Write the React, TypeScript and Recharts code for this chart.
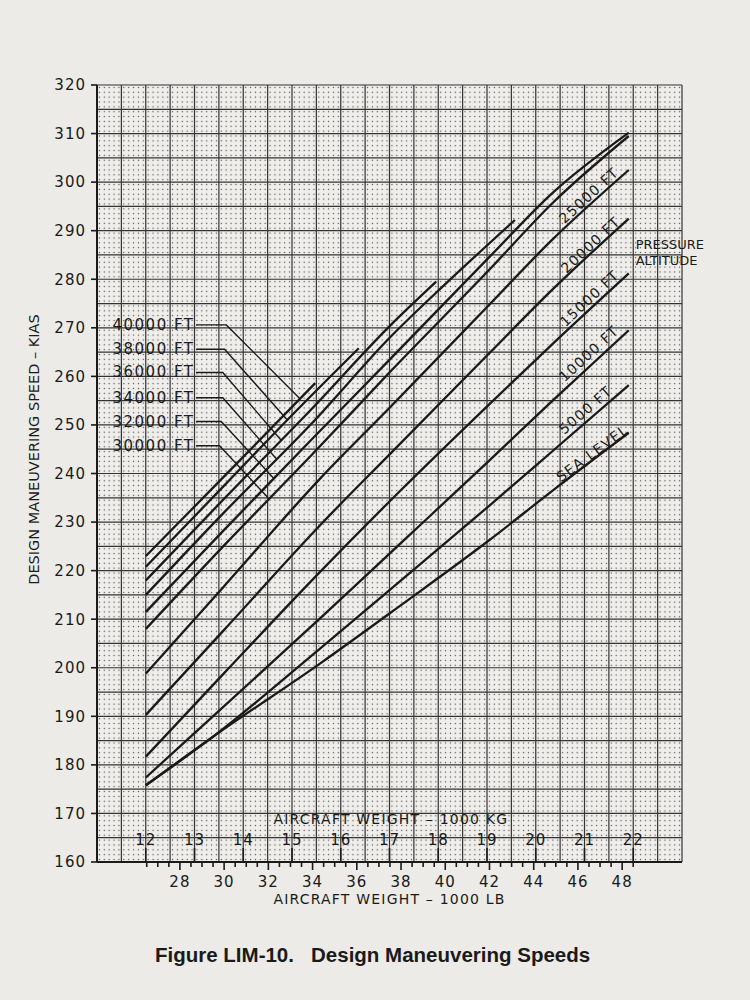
import React from 'react';
import { ComposedChart, Line, XAxis, YAxis, CartesianGrid, ReferenceDot } from 'recharts';

// weight in 1000 lb, speed in KIAS
const seaLevel = [[26.46, 175.8], [29.5, 185.8], [34.35, 200.9], [38, 212.9], [42, 226.3], [45, 237.0], [48.3, 248.4]];
const ft5000 = [[26.46, 175.8], [29.5, 185.8], [34.35, 204.0], [38, 218.0], [42, 233.4], [45, 245.2], [48.3, 258.2]];
const ft10000 = [[26.46, 177.4], [30, 192.1], [34.35, 210.2], [38, 225.7], [42, 242.7], [44.83, 254.9], [48.3, 269.5]];
const ft15000 = [[26.46, 181.7], [30, 198.9], [34.35, 219.8], [38, 236.6], [42, 254.3], [45, 267.3], [48.3, 281.2]];
const ft20000 = [[26.46, 190.3], [30, 207.8], [34.35, 229.4], [37.54, 244.2], [42, 264.8], [44.83, 277.8], [48.3, 292.5]];
const ft25000 = [[26.46, 198.8], [30, 216.8], [34.35, 239.0], [37.54, 253.8], [42, 274.8], [44.83, 288.1], [48.3, 302.5]];
const ft30000 = [[26.46, 208.0], [30, 225.2], [34, 244.0], [37.54, 261.1], [42, 282.0], [44.83, 295.6], [48.3, 309.5]];
const ft32000 = [[26.46, 211.5], [30, 228.4], [34, 247.2], [37.54, 263.7], [42, 284.6], [44.83, 297.7], [48.3, 310.2]];
const ft34000 = [[26.46, 215.0], [30, 232.0], [34, 250.5], [37.54, 268.2], [40, 279.0], [43.15, 292.2]];
const ft36000 = [[26.46, 218.0], [30, 234.8], [34, 253.5], [37.54, 270.6], [39.59, 279.5]];
const ft38000 = [[26.46, 220.8], [30, 237.5], [33, 251.7], [36.09, 265.8]];
const ft40000 = [[26.46, 223.0], [30, 239.4], [34.12, 258.6]];

// leader lines from the left-hand labels to their curves
const lead40000 = [[28.73, 270.6], [30.1, 270.6], [33.43, 255.4]];
const lead38000 = [[28.73, 265.6], [30.02, 265.6], [32.88, 250.9]];
const lead36000 = [[28.73, 260.8], [29.94, 260.8], [32.57, 246.9]];
const lead34000 = [[28.73, 255.6], [29.94, 255.6], [32.35, 243.1]];
const lead32000 = [[28.73, 250.7], [29.87, 250.7], [32.26, 238.9]];
const lead30000 = [[28.73, 245.7], [29.79, 245.7], [31.99, 235.0]];

const leftLabels = [
  { text: '40000 FT', v: 270.6 },
  { text: '38000 FT', v: 265.6 },
  { text: '36000 FT', v: 260.8 },
  { text: '34000 FT', v: 255.6 },
  { text: '32000 FT', v: 250.7 },
  { text: '30000 FT', v: 245.7 },
];

const curveLabels = [
  { text: '25000 FT', w: 46.49, v: 297.3, angle: -42.5 },
  { text: '20000 FT', w: 46.57, v: 287.1, angle: -43 },
  { text: '15000 FT', w: 46.52, v: 276.1, angle: -43 },
  { text: '10000 FT', w: 46.49, v: 264.7, angle: -42.5 },
  { text: '5000 FT', w: 46.34, v: 253.1, angle: -41 },
  { text: 'SEA LEVEL', w: 46.65, v: 244.2, angle: -36.5 },
];

const speedTicks = [160, 170, 180, 190, 200, 210, 220, 230, 240, 250, 260, 270, 280, 290, 300, 310, 320];
const kgTicks = [12, 13, 14, 15, 16, 17, 18, 19, 20, 21, 22];
const lbLabels = [28, 30, 32, 34, 36, 38, 40, 42, 44, 46, 48];
const lbMinor = Array.from({ length: 45 }, (_, i) => 26.5 + i * 0.5);
const kgGrid = Array.from({ length: 25 }, (_, i) => 11 + i * 0.5);
const ktGrid = Array.from({ length: 33 }, (_, i) => 160 + i * 5);

const LB_PER_T = 2.20462;
const LB_DOMAIN = [11 * LB_PER_T, 23 * LB_PER_T];
// kg ticks are drawn on the lb axis, converted to lb
const kgInLb = kgTicks.map((t) => t * LB_PER_T);
const bottomTicks = [...lbMinor, ...kgInLb].sort((a, b) => a - b);

const INK = '#1a1a1a';
const GRID = '#333333';
const PAPER = '#ecebe7';
const FONT = '"DejaVu Sans", Arial, sans-serif';

const pts = (a: number[][]) => a.map(([w, v]) => ({ w, v }));

const curves = [seaLevel, ft5000, ft10000, ft15000, ft20000, ft25000, ft30000, ft32000, ft34000, ft36000, ft38000, ft40000];
const leaders = [lead40000, lead38000, lead36000, lead34000, lead32000, lead30000];

function BottomTick(props: any) {
  const { x, y, payload } = props;
  const val = payload.value;
  const kg = kgTicks.find((t) => Math.abs(t * LB_PER_T - val) < 1e-6);
  if (kg !== undefined) {
    return (
      <g>
        <line x1={x} x2={x} y1={y} y2={y - 14} stroke={INK} strokeWidth={1.6} />
        <text x={x} y={y - 17} textAnchor="middle" fontFamily={FONT} fontSize={15} letterSpacing={1} fill={INK}>
          {kg}
        </text>
      </g>
    );
  }
  const major = lbLabels.some((l) => Math.abs(l - val) < 1e-6);
  return (
    <g>
      <line x1={x} x2={x} y1={y} y2={y + (major ? 8 : 5)} stroke={INK} strokeWidth={1.6} />
      {major && (
        <text x={x} y={y + 25} textAnchor="middle" fontFamily={FONT} fontSize={15} letterSpacing={1} fill={INK}>
          {val}
        </text>
      )}
    </g>
  );
}

const verticalGrid = ({ xAxis, offset }: any) =>
  kgGrid.map((t) =>
    xAxis && typeof xAxis.scale === 'function'
      ? xAxis.scale(t * LB_PER_T)
      : offset.left + ((t - 11) / 12) * offset.width
  );

const horizontalGrid = ({ yAxis, offset }: any) =>
  ktGrid.map((v) =>
    yAxis && typeof yAxis.scale === 'function'
      ? yAxis.scale(v)
      : offset.top + ((320 - v) / 160) * offset.height
  );

const centre = (p: any) => {
  const vb = p.viewBox || { x: 0, y: 0, width: 0, height: 0 };
  return [vb.x + (vb.width || 0) / 2, vb.y + (vb.height || 0) / 2];
};

const textLabel = (text: string, angle: number, size: number, anchor: string, spacing: number) => (p: any) => {
  const [cx, cy] = centre(p);
  return (
    <text
      x={cx}
      y={cy}
      transform={angle ? `rotate(${angle} ${cx} ${cy})` : undefined}
      textAnchor={anchor}
      dominantBaseline="central"
      fontFamily={FONT}
      fontSize={size}
      letterSpacing={spacing}
      fill={INK}
    >
      {text}
    </text>
  );
};

const pressureLabel = (p: any) => {
  const [cx, cy] = centre(p);
  return (
    <text x={cx} textAnchor="start" dominantBaseline="central" fontFamily={FONT} fontSize={13} fill={INK}>
      <tspan x={cx} y={cy - 7.6}>PRESSURE</tspan>
      <tspan x={cx} y={cy + 7.6}>ALTITUDE</tspan>
    </text>
  );
};

const yTitle = (p: any) => {
  const vb = p.viewBox || { x: 27, y: 85, width: 70, height: 777 };
  const cx = vb.x + 7;
  const cy = vb.y + vb.height / 2 - 24;
  return (
    <text
      x={cx}
      y={cy}
      transform={`rotate(-90 ${cx} ${cy})`}
      textAnchor="middle"
      dominantBaseline="central"
      fontFamily={FONT}
      fontSize={14.5}
      fill={INK}
    >
      DESIGN MANEUVERING SPEED – KIAS
    </text>
  );
};

const xTitle = (p: any) => {
  const vb = p.viewBox || { x: 97, y: 862, width: 585, height: 50 };
  const cx = vb.x + vb.width / 2;
  const cy = vb.y + 36.5;
  return (
    <text x={cx} y={cy} textAnchor="middle" dominantBaseline="central" fontFamily={FONT} fontSize={14} letterSpacing={1.2} fill={INK}>
      AIRCRAFT WEIGHT – 1000 LB
    </text>
  );
};

export default function App() {
  return (
    <div style={{ position: 'relative', width: 750, height: 1000, background: PAPER, overflow: 'hidden' }}>
      <style>{`body{margin:0;background:${PAPER}}`}</style>
      <ComposedChart width={750} height={930} margin={{ top: 85, right: 68, bottom: 18, left: 27 }}>
        <defs>
          <pattern id="dots" patternUnits="userSpaceOnUse" x={97} y={85} width={4.875} height={4.856}>
            <rect x={0} y={0} width={4.875} height={4.856} fill="#efeeea" />
            <circle cx={2.44} cy={2.43} r={0.7} fill="#555555" />
          </pattern>
        </defs>
        <XAxis
          xAxisId="lb"
          dataKey="w"
          type="number"
          domain={LB_DOMAIN}
          allowDataOverflow
          ticks={bottomTicks}
          interval={0}
          height={50}
          tickSize={0}
          tickMargin={0}
          tickLine={false}
          axisLine={{ stroke: INK, strokeWidth: 2 }}
          tick={<BottomTick />}
          label={xTitle}
        />
        <YAxis
          yAxisId="kts"
          type="number"
          domain={[160, 320]}
          allowDataOverflow
          ticks={speedTicks}
          interval={0}
          width={70}
          tickSize={6}
          tickMargin={5}
          axisLine={{ stroke: INK, strokeWidth: 2 }}
          tickLine={{ stroke: INK, strokeWidth: 1.6 }}
          tick={{ fontFamily: FONT, fontSize: 15, fill: INK, letterSpacing: 1 }}
          label={yTitle}
        />
        <CartesianGrid
          xAxisId="lb"
          yAxisId="kts"
          verticalCoordinatesGenerator={verticalGrid}
          horizontalCoordinatesGenerator={horizontalGrid}
          fill="url(#dots)"
          fillOpacity={1}
          stroke={GRID}
          strokeWidth={1.2}
        />

        {curves.map((c, i) => (
          <Line
            key={'c' + i}
            xAxisId="lb"
            yAxisId="kts"
            data={pts(c)}
            dataKey="v"
            type="monotone"
            stroke={INK}
            strokeWidth={2.3}
            dot={false}
            activeDot={false}
            isAnimationActive={false}
          />
        ))}
        {leaders.map((c, i) => (
          <Line
            key={'l' + i}
            xAxisId="lb"
            yAxisId="kts"
            data={pts(c)}
            dataKey="v"
            type="linear"
            stroke={INK}
            strokeWidth={1.4}
            dot={false}
            activeDot={false}
            isAnimationActive={false}
          />
        ))}

        {leftLabels.map((l) => (
          <ReferenceDot
            key={l.text}
            xAxisId="lb"
            yAxisId="kts"
            x={28.66}
            y={l.v}
            r={1}
            fill="none"
            stroke="none"
            ifOverflow="visible"
            label={textLabel(l.text, 0, 15, 'end', 1.5)}
          />
        ))}
        {curveLabels.map((l) => (
          <ReferenceDot
            key={l.text}
            xAxisId="lb"
            yAxisId="kts"
            x={l.w}
            y={l.v}
            r={1}
            fill="none"
            stroke="none"
            ifOverflow="visible"
            label={textLabel(l.text, l.angle, 14, 'middle', 1.2)}
          />
        ))}
        <ReferenceDot
          xAxisId="lb"
          yAxisId="kts"
          x={48.61}
          y={285.6}
          r={1}
          fill="none"
          stroke="none"
          ifOverflow="visible"
          label={pressureLabel}
        />
        <ReferenceDot
          xAxisId="lb"
          yAxisId="kts"
          x={37.54}
          y={168.85}
          r={1}
          fill="none"
          stroke="none"
          ifOverflow="visible"
          label={textLabel('AIRCRAFT WEIGHT – 1000 KG', 0, 14, 'middle', 1.2)}
        />
      </ComposedChart>
      <div
        style={{
          position: 'absolute',
          left: 155,
          top: 943,
          fontFamily: '"Liberation Sans", Arial, sans-serif',
          fontWeight: 700,
          fontSize: 20.5,
          color: '#1a1a1a',
          whiteSpace: 'pre',
        }}
      >
        {'Figure LIM-10.   Design Maneuvering Speeds'}
      </div>
    </div>
  );
}
